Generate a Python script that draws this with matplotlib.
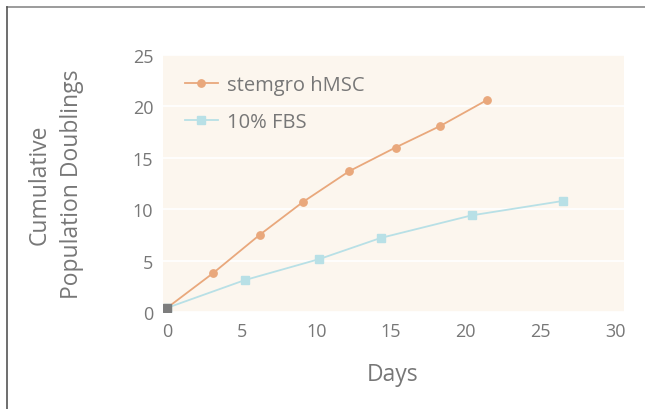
import matplotlib
matplotlib.use('Agg')
import matplotlib.pyplot as plt
from matplotlib.lines import Line2D

plt.rcParams['font.family'] = ['Open Sans', 'DejaVu Sans']

# values
stem_days = [0, 3.1, 6.2, 9.1, 12.2, 15.3, 18.3, 21.4]
stem_pd = [0.4, 3.8, 7.5, 10.7, 13.7, 16.0, 18.1, 20.6]
fbs_days = [0, 5.2, 10.2, 14.3, 20.4, 26.5]
fbs_pd = [0.4, 3.1, 5.15, 7.2, 9.4, 10.8]
labels = ['stemgro hMSC', '10% FBS']

orange = '#e9a87c'
cyan = '#b8e0e6'
txt = '#777777'

fig = plt.figure(figsize=(6.45, 4.1), dpi=100)
ax = fig.add_axes([163 / 645, 1 - 313 / 410, (624 - 163) / 645, (313 - 56) / 410])
ax.set_facecolor('#fcf6ee')

ax.plot(stem_days, stem_pd, color=orange, lw=1.3, marker='o', ms=5.3,
        mec=orange, mfc=orange, label=labels[0], zorder=3)
ax.plot(fbs_days, fbs_pd, color=cyan, lw=1.3, marker='s', ms=5.3,
        mec=cyan, mfc=cyan, label=labels[1], zorder=3)
# start point shared by both series
ax.plot([stem_days[0]], [stem_pd[0]], marker='s', ms=5.3, color='#7d7d7d',
        ls='none', zorder=4)

ax.set_xlim(-0.27, 30.6)
ax.set_ylim(0, 25)
ax.set_xticks(range(0, 31, 5))
ax.set_yticks(range(0, 26, 5))
ax.grid(axis='y', color='white', lw=1.2)
ax.set_axisbelow(True)
for s in ax.spines.values():
    s.set_visible(False)
ax.tick_params(length=0, labelsize=13, labelcolor=txt, pad=7)

ax.set_xlabel('Days', fontsize=16.5, color=txt)
ax.xaxis.set_label_coords(0.499, -0.195)
ax.set_ylabel('Cumulative\nPopulation Doublings', fontsize=16.5, color=txt,
              linespacing=1.5)
ax.yaxis.set_label_coords(-0.171, 0.5)

handles = [Line2D([], [], color=orange, lw=1.3, marker='o', ms=5.3),
           Line2D([], [], color=cyan, lw=1.3, marker='s', ms=5.3)]
leg = ax.legend(handles, labels, loc='upper left', bbox_to_anchor=(-0.005, 1.015),
                frameon=False, fontsize=14.5, labelspacing=0.85,
                handlelength=1.65, handletextpad=0.45, borderaxespad=0.8)
for t in leg.get_texts():
    t.set_color(txt)

# partial frame around the figure (top and left edges)
fig.add_artist(Line2D([7 / 645, 1], [1 - 8 / 410, 1 - 8 / 410],
                      transform=fig.transFigure, color='#8a8a8a', lw=1.2))
fig.add_artist(Line2D([7 / 645, 7 / 645], [0, 1 - 8 / 410],
                      transform=fig.transFigure, color='#555555', lw=1.2))

fig.savefig('out.png', dpi=100)
